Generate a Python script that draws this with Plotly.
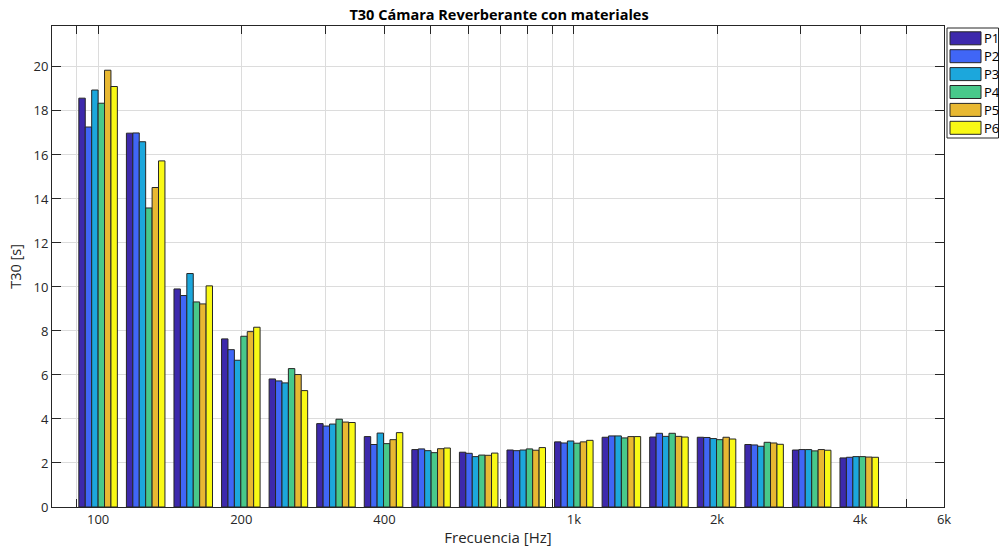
import numpy as np
import plotly.graph_objects as go

# Third-octave band centres (Hz)
bands = [100, 125, 160, 200, 250, 315, 400, 500, 630, 800,
         1000, 1250, 1600, 2000, 2500, 3150, 4000]

# T30 (s) per measurement position
P1 = [18.58, 16.99, 9.91, 7.64, 5.82, 3.79, 3.20, 2.61, 2.49, 2.59, 2.96, 3.17, 3.18, 3.17, 2.84, 2.59, 2.23]
P2 = [17.27, 17.00, 9.61, 7.15, 5.73, 3.68, 2.84, 2.64, 2.44, 2.56, 2.91, 3.23, 3.35, 3.16, 2.82, 2.61, 2.26]
P3 = [18.95, 16.60, 10.61, 6.67, 5.64, 3.77, 3.36, 2.56, 2.29, 2.59, 3.00, 3.23, 3.21, 3.11, 2.76, 2.61, 2.29]
P4 = [18.35, 13.59, 9.32, 7.76, 6.29, 3.99, 2.88, 2.47, 2.36, 2.64, 2.90, 3.14, 3.35, 3.06, 2.94, 2.55, 2.29]
P5 = [19.85, 14.52, 9.23, 7.97, 6.02, 3.86, 3.06, 2.65, 2.35, 2.58, 2.96, 3.20, 3.21, 3.17, 2.91, 2.61, 2.27]
P6 = [19.11, 15.73, 10.05, 8.17, 5.29, 3.84, 3.38, 2.68, 2.45, 2.70, 3.03, 3.20, 3.18, 3.09, 2.85, 2.58, 2.26]

series = {"P1": P1, "P2": P2, "P3": P3, "P4": P4, "P5": P5, "P6": P6}
colors = ["#3D29AC", "#4066F6", "#1CA7DC", "#48C88A", "#E8B832", "#F9F915"]

# Axis ticks / grid (log frequency axis)
grid_freqs = [90, 100, 200, 300, 400, 500, 600, 700, 800, 900,
              1000, 2000, 3000, 4000, 5000, 6000]
tick_labels = {100: "100", 200: "200", 400: "400", 1000: "1k",
               2000: "2k", 4000: "4k", 6000: "6k"}
x_min, x_max = 80, 6000
y_max = 21.86

FONT = "Open Sans"
AX = "#262626"

# bars are placed on log10(f), snapped to the exact base-10 band centre
xpos = np.round(10 * np.log10(bands)) / 10
group_w = 0.081
bar_w = group_w / len(series)

fig = go.Figure()
for i, (name, vals) in enumerate(series.items()):
    fig.add_trace(go.Bar(
        x=xpos, y=vals, name=name,
        width=bar_w, offset=-group_w / 2 + i * bar_w,
        marker=dict(color=colors[i], line=dict(color=AX, width=1)),
        showlegend=False,
    ))

W, H = 999, 556
L, R, T, B = 52, 55, 26, 49


def px_x(px):
    return (px - L) / (W - L - R)


def px_y(py):
    return (H - B - py) / (H - T - B)


fig.update_layout(
    width=W, height=H,
    margin=dict(l=L, r=R, t=T, b=B),
    paper_bgcolor="white", plot_bgcolor="white",
    barmode="overlay",
    font=dict(family=FONT, size=13, color=AX),
    title=dict(text="<b>T30 Cámara Reverberante con materiales</b>",
               x=px_x(499), xref="paper", xanchor="center",
               y=1 - 15 / H, yref="container", yanchor="middle",
               font=dict(size=14.5, color="black")),
    xaxis=dict(
        range=[np.log10(x_min), np.log10(x_max)],
        tickvals=[np.log10(f) for f in grid_freqs],
        ticktext=[tick_labels.get(f, "") for f in grid_freqs],
        ticks="inside", ticklen=8, tickcolor=AX, tickwidth=1,
        showgrid=True, gridcolor="#DCDCDC", gridwidth=1,
        showline=True, linecolor=AX, linewidth=1, mirror="ticks",
        zeroline=False, layer="below traces",
        title=dict(text="Frecuencia [Hz]", standoff=5, font=dict(size=15)),
        tickfont=dict(size=13),
    ),
    yaxis=dict(
        range=[0, y_max],
        tickvals=list(range(0, 21, 2)),
        ticks="inside", ticklen=9, tickcolor=AX, tickwidth=1,
        showgrid=True, gridcolor="#DCDCDC", gridwidth=1,
        showline=True, linecolor=AX, linewidth=1, mirror="ticks",
        zeroline=False,
        title=dict(text="T30 [s]", standoff=8, font=dict(size=14.5)),
        tickfont=dict(size=13),
    ),
)

# Legend box with wide colour swatches
shapes = [dict(type="rect", xref="paper", yref="paper",
               x0=px_x(947), x1=px_x(998.5), y0=px_y(138), y1=px_y(28),
               line=dict(color=AX, width=1), fillcolor="white")]
annotations = []
for i, name in enumerate(series):
    cy = 38.3 + i * 17.9
    shapes.append(dict(type="rect", xref="paper", yref="paper",
                       x0=px_x(950), x1=px_x(981), y0=px_y(cy + 6.5), y1=px_y(cy - 6.5),
                       line=dict(color=AX, width=1), fillcolor=colors[i]))
    annotations.append(dict(text=name, xref="paper", yref="paper",
                            x=px_x(982.5), y=px_y(cy), xanchor="left", yanchor="middle",
                            showarrow=False, font=dict(size=13, color="black")))
fig.update_layout(shapes=shapes, annotations=annotations)

fig.write_html("out.html")
